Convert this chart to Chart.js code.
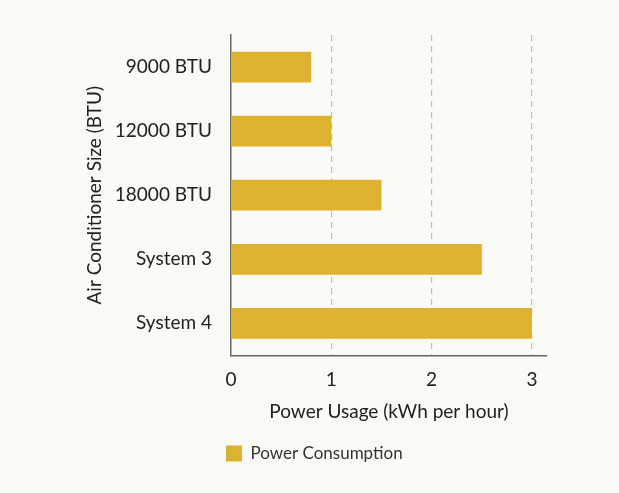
<!DOCTYPE html>
<html>
<head>
<meta charset="utf-8">
<script src="https://cdn.jsdelivr.net/npm/chart.js@4/dist/chart.umd.min.js"></script>
<style>
  html, body { margin: 0; padding: 0; background: #fafaf7; }
  #wrap { width: 619px; height: 493px; }
</style>
</head>
<body>
<div id="wrap"><canvas id="acChart" width="619" height="493"></canvas></div>
<script>
var categories = ["9000 BTU", "12000 BTU", "18000 BTU", "System 3", "System 4"];
var powerValues = [0.8, 1.0, 1.5, 2.5, 3.0];
var xTicks = [0, 1, 2, 3];

// move the legend so it lines up under the y axis
var legendShift = {
  id: "legendShift",
  beforeDraw: function(chart) {
    if (chart.legend) {
      chart.legend.left = chart.chartArea.left - 15;
    }
  }
};

var ctx = document.getElementById("acChart").getContext("2d");
var acChart = new Chart(ctx, {
  type: "bar",
  data: {
    labels: categories,
    datasets: [{
      label: "Power Consumption",
      data: powerValues,
      backgroundColor: "#ddb230",
      borderWidth: 0,
      categoryPercentage: 1,
      barPercentage: 0.48
    }]
  },
  options: {
    indexAxis: "y",
    responsive: false,
    animation: false,
    layout: { padding: { top: 35, right: 72, left: 83, bottom: 21 } },
    plugins: {
      legend: {
        position: "bottom",
        align: "start",
        labels: {
          boxWidth: 16,
          boxHeight: 16,
          color: "#333",
          font: { family: "Lato", size: 17 }
        }
      },
      tooltip: { enabled: false }
    },
    scales: {
      x: {
        min: 0,
        max: 3.15,
        afterBuildTicks: function(axis) {
          axis.ticks = xTicks.map(function(v) { return { value: v }; });
        },
        border: { display: true, color: "#666", width: 1.5, dash: [6, 5] },
        grid: {
          drawTicks: false,
          color: function(c) { return c.tick && c.tick.value === 0 ? "rgba(0,0,0,0)" : "#bdbdbd"; },
          lineWidth: 1.2
        },
        ticks: {
          padding: 13,
          color: "#222",
          font: { family: "Lato", size: 19 }
        },
        title: {
          display: true,
          text: "Power Usage (kWh per hour)",
          color: "#222",
          padding: { top: -4, bottom: 12 },
          font: { family: "Lato", size: 19 }
        }
      },
      y: {
        border: { display: true, color: "#666", width: 1.5 },
        grid: { display: false, drawTicks: false },
        ticks: {
          padding: 19,
          color: "#222",
          font: { family: "Lato", size: 19 }
        },
        title: {
          display: true,
          text: "Air Conditioner Size (BTU)",
          color: "#222",
          padding: { top: 0, bottom: -10 },
          font: { family: "Lato", size: 19 }
        }
      }
    }
  },
  plugins: [legendShift]
});
</script>
</body>
</html>
